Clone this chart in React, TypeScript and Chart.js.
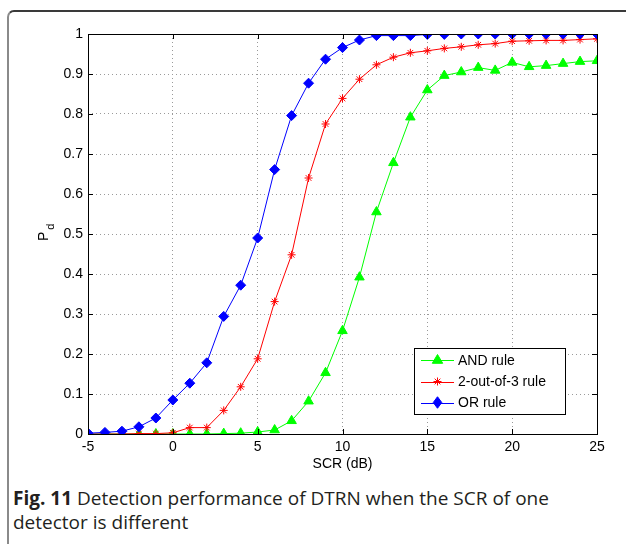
import React, { useEffect, useRef } from "react";
import { Chart, registerables } from "chart.js";

Chart.register(...registerables);

const scr: number[] = [-5, -4, -3, -2, -1, 0, 1, 2, 3, 4, 5, 6, 7, 8, 9, 10, 11, 12, 13, 14, 15, 16, 17, 18, 19, 20, 21, 22, 23, 24, 25];

const andRule: number[] = [0, 0, 0, 0, 0, 0, 0, 0, 0.001, 0.002, 0.005, 0.01, 0.033, 0.082, 0.153, 0.258, 0.392, 0.555, 0.678, 0.792, 0.86, 0.896, 0.905, 0.916, 0.909, 0.929, 0.918, 0.921, 0.926, 0.931, 0.933];

const twoOfThree: number[] = [0, 0, 0, 0.001, 0.001, 0.003, 0.016, 0.016, 0.059, 0.118, 0.188, 0.331, 0.448, 0.64, 0.775, 0.839, 0.887, 0.923, 0.942, 0.953, 0.958, 0.964, 0.968, 0.973, 0.976, 0.982, 0.983, 0.984, 0.984, 0.986, 0.988];

const orRule: number[] = [0.002, 0.004, 0.007, 0.018, 0.04, 0.085, 0.127, 0.178, 0.294, 0.372, 0.49, 0.661, 0.796, 0.877, 0.937, 0.966, 0.985, 0.996, 0.996, 0.996, 0.999, 0.999, 1, 1, 1, 1, 1, 1, 1, 1, 1];

const seriesLabels: string[] = ["AND rule", "2-out-of-3 rule", "OR rule"];
const xTickValues: number[] = [-5, 0, 5, 10, 15, 20, 25];
const xTitle = "SCR (dB)";
const captionBold = "Fig. 11";
const captionText = " Detection performance of DTRN when the SCR of one detector is different";

const AXIS_FONT = "'Liberation Sans', Arial, Helvetica, sans-serif";

function drawMarker(ctx: CanvasRenderingContext2D, style: string, r: number, x: number, y: number) {
  ctx.beginPath();
  if (style === "triangle") {
    ctx.moveTo(x, y - r);
    ctx.lineTo(x + r * 0.95, y + r * 0.6);
    ctx.lineTo(x - r * 0.95, y + r * 0.6);
    ctx.closePath();
    ctx.fill();
    ctx.stroke();
  } else if (style === "rectRot") {
    ctx.moveTo(x, y - r * 1.15);
    ctx.lineTo(x + r * 0.85, y);
    ctx.lineTo(x, y + r * 1.15);
    ctx.lineTo(x - r * 0.85, y);
    ctx.closePath();
    ctx.fill();
    ctx.stroke();
  } else {
    for (let k = 0; k < 4; k++) {
      const a = (k * Math.PI) / 4;
      ctx.moveTo(x - r * Math.cos(a), y - r * Math.sin(a));
      ctx.lineTo(x + r * Math.cos(a), y + r * Math.sin(a));
    }
    ctx.stroke();
  }
}

const decorPlugin = {
  id: "decor",
  afterDraw(chart: any) {
    const ctx = chart.ctx;
    const { left, right, top, bottom } = chart.chartArea;
    const xs = chart.scales.x;
    const ys = chart.scales.y;
    ctx.save();
    ctx.strokeStyle = "#000";
    ctx.lineWidth = 1;
    ctx.strokeRect(Math.round(left) + 0.5, Math.round(top) + 0.5, Math.round(right - left), Math.round(bottom - top));
    const tl = 5;
    ctx.beginPath();
    xs.ticks.forEach((t: any) => {
      const px = Math.round(xs.getPixelForValue(t.value)) + 0.5;
      ctx.moveTo(px, bottom);
      ctx.lineTo(px, bottom - tl);
      ctx.moveTo(px, top);
      ctx.lineTo(px, top + tl);
    });
    ys.ticks.forEach((t: any) => {
      const py = Math.round(ys.getPixelForValue(t.value)) + 0.5;
      ctx.moveTo(left, py);
      ctx.lineTo(left + tl, py);
      ctx.moveTo(right, py);
      ctx.lineTo(right - tl, py);
    });
    ctx.stroke();

    ctx.fillStyle = "#000";
    ctx.font = `14px ${AXIS_FONT}`;
    ctx.textAlign = "center";
    ctx.textBaseline = "middle";
    ctx.fillText(xTitle, (left + right) / 2, bottom + 30);

    ctx.save();
    ctx.translate(46, (top + bottom) / 2 + 3);
    ctx.rotate(-Math.PI / 2);
    ctx.textAlign = "left";
    ctx.textBaseline = "alphabetic";
    ctx.font = `14px ${AXIS_FONT}`;
    ctx.fillText("P", -4, 2);
    const pw = ctx.measureText("P").width;
    ctx.font = `11px ${AXIS_FONT}`;
    ctx.fillText("d", -4 + pw + 2, 8);
    ctx.restore();

    const lx = 414, ly = 348, lw = 151, lh = 66;
    ctx.fillStyle = "#fff";
    ctx.fillRect(lx, ly, lw, lh);
    ctx.strokeStyle = "#000";
    ctx.lineWidth = 1;
    ctx.strokeRect(lx + 0.5, ly + 0.5, lw, lh);
    const rows = [360, 381.5, 402.5];
    chart.data.datasets.forEach((ds: any, i: number) => {
      const cy = rows[i];
      ctx.strokeStyle = ds.borderColor;
      ctx.lineWidth = 1;
      ctx.beginPath();
      ctx.moveTo(421, Math.round(cy) + 0.5);
      ctx.lineTo(454, Math.round(cy) + 0.5);
      ctx.stroke();
      ctx.fillStyle = ds.pointBackgroundColor;
      ctx.strokeStyle = ds.pointBorderColor;
      drawMarker(ctx, ds.pointStyle, ds.pointRadius, 437.5, cy);
      ctx.fillStyle = "#000";
      ctx.font = `14px ${AXIS_FONT}`;
      ctx.textAlign = "left";
      ctx.textBaseline = "middle";
      ctx.fillText(ds.label, 458, cy + 1);
    });
    ctx.restore();
  },
};

export default function App() {
  const ref = useRef<HTMLCanvasElement | null>(null);
  useEffect(() => {
    if (!ref.current) return;
    const mk = (vals: number[]) => scr.map((x, i) => ({ x, y: vals[i] }));
    const chart = new Chart(ref.current, {
      type: "line",
      data: {
        datasets: [
          {
            label: seriesLabels[0],
            data: mk(andRule),
            borderColor: "#00ff00",
            backgroundColor: "#00ff00",
            pointBackgroundColor: "#00ff00",
            pointBorderColor: "#00ff00",
            pointStyle: "triangle",
            pointRadius: 5.5,
            borderWidth: 1,
            tension: 0,
            order: 3,
          },
          {
            label: seriesLabels[1],
            data: mk(twoOfThree),
            borderColor: "#ff0000",
            backgroundColor: "#ff0000",
            pointBackgroundColor: "#ff0000",
            pointBorderColor: "#ff0000",
            pointStyle: "star",
            pointRadius: 4,
            borderWidth: 1,
            tension: 0,
            order: 2,
          },
          {
            label: seriesLabels[2],
            data: mk(orRule),
            borderColor: "#0000ff",
            backgroundColor: "#0000ff",
            pointBackgroundColor: "#0000ff",
            pointBorderColor: "#0000ff",
            pointStyle: "rectRot",
            pointRadius: 5,
            borderWidth: 1,
            tension: 0,
            order: 1,
          },
        ] as any,
      },
      options: {
        animation: false,
        responsive: false,
        devicePixelRatio: 1,
        layout: { padding: { left: 48, top: 34, right: 29, bottom: 16 } },
        plugins: { legend: { display: false }, tooltip: { enabled: false } },
        scales: {
          x: {
            type: "linear",
            min: -5,
            max: 25,
            afterFit: (s: any) => { s.height = 30; },
            afterBuildTicks: (s: any) => { s.ticks = xTickValues.map((v) => ({ value: v })); },
            ticks: { font: { family: AXIS_FONT, size: 14 }, color: "#000", padding: 5, maxRotation: 0, autoSkip: false },
            grid: { color: "#9a9a9a", lineWidth: 1, drawTicks: false },
            border: { display: false, dash: [1, 3] },
          },
          y: {
            type: "linear",
            min: 0,
            max: 1,
            afterFit: (s: any) => { s.width = 40; },
            ticks: {
              stepSize: 0.1,
              font: { family: AXIS_FONT, size: 14 },
              color: "#000",
              padding: 5,
              callback: (v: any) => String(Math.round(Number(v) * 10) / 10),
            },
            grid: { color: "#9a9a9a", lineWidth: 1, drawTicks: false },
            border: { display: false, dash: [1, 3] },
          },
        },
      } as any,
      plugins: [decorPlugin],
    });
    return () => chart.destroy();
  }, []);

  return (
    <div style={{ position: "fixed", left: 0, top: 0, width: 626, height: 544, background: "#fff", overflow: "hidden" }}>
      <div
        style={{
          position: "absolute",
          left: 7,
          top: 10,
          width: 700,
          height: 600,
          borderTop: "2px solid #3a3a3a",
          borderLeft: "2px solid #8a8a8a",
          borderTopLeftRadius: 7,
          boxSizing: "border-box",
        }}
      />
      <canvas ref={ref} width={626} height={480} style={{ position: "absolute", left: 0, top: 0, width: 626, height: 480 }} />
      <div
        style={{
          position: "absolute",
          left: 13,
          top: 486,
          width: 575,
          fontFamily: "'Open Sans', 'Noto Sans', sans-serif",
          fontSize: 19,
          lineHeight: "24px",
          color: "#231f20",
        }}
      >
        <b>{captionBold}</b>
        {captionText}
      </div>
    </div>
  );
}
